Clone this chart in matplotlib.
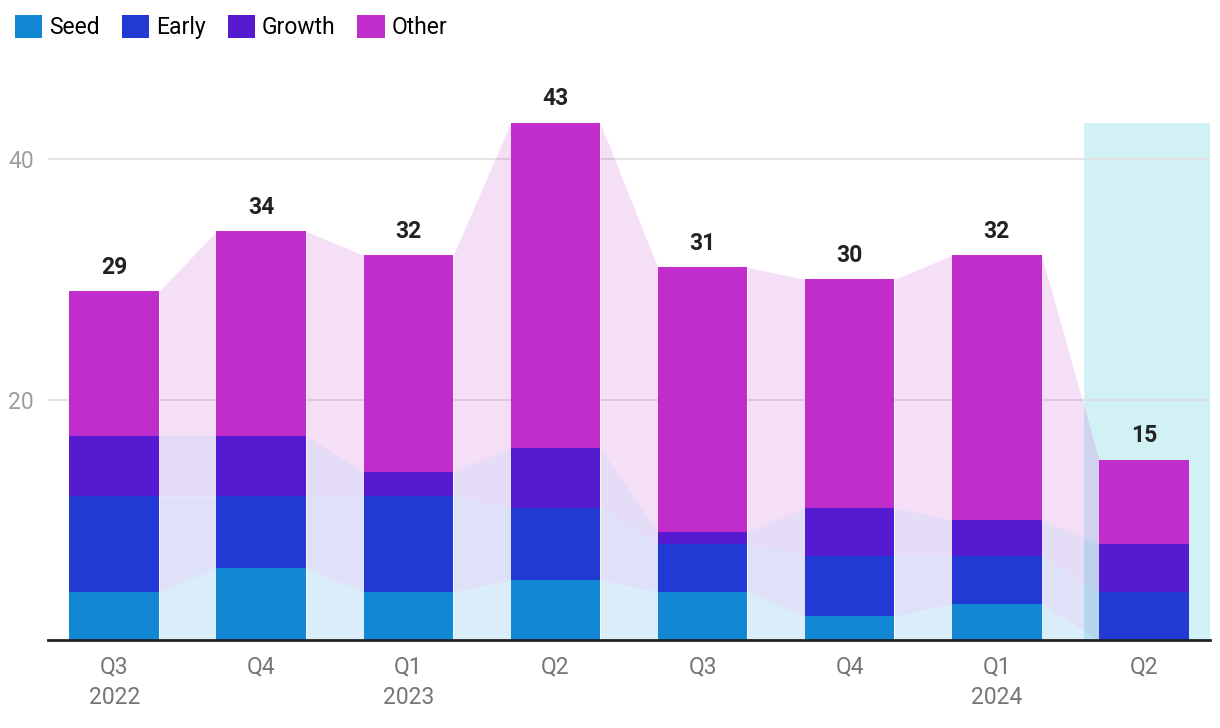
import numpy as np
import matplotlib.pyplot as plt
from matplotlib.patches import Patch

plt.rcParams['font.family'] = ['Roboto', 'DejaVu Sans']

quarters = ['Q3\n2022', 'Q4', 'Q1\n2023', 'Q2', 'Q3', 'Q4', 'Q1\n2024', 'Q2']
seed = [4, 6, 4, 5, 4, 2, 3, 0]
early = [8, 6, 8, 6, 4, 5, 4, 4]
growth = [5, 5, 2, 5, 1, 4, 3, 4]
other = [12, 17, 18, 27, 22, 19, 22, 7]

series = [('Seed', seed, '#1288d5'), ('Early', early, '#2339d3'),
          ('Growth', growth, '#561ad0'), ('Other', other, '#c02dca')]

fig = plt.figure(figsize=(12.2, 7.28), dpi=100)
ax = fig.add_axes([48 / 1220, 1 - 640 / 728, (1210 - 48) / 1220, 553 / 728])

x = np.arange(len(quarters))
w = 0.61
totals = np.sum([s[1] for s in series], axis=0)

# highlight for the current quarter
ax.fill_between([x[-1] - 0.41, x[-1] + 0.45], 0, totals.max(), color='#d2f1f5', lw=0, zorder=0)

bottom = np.zeros(len(x))
for name, vals, col in series:
    vals = np.array(vals, dtype=float)
    top = bottom + vals
    ax.bar(x, vals, w, bottom=bottom, color=col, lw=0, zorder=3)
    # light connectors between bars
    for i in range(len(x) - 1):
        xs = [x[i] + w / 2, x[i + 1] - w / 2]
        ax.fill_between(xs, [bottom[i], bottom[i + 1]], [top[i], top[i + 1]],
                        color=col, alpha=0.15, lw=0, zorder=2)
    bottom = top

for xi, t in zip(x, totals):
    ax.text(xi, t + 1.05, str(int(t)), ha='center', va='bottom', fontsize=16.5,
            fontweight='bold', color='#222222', zorder=4)

ax.set_xlim(-0.45, x[-1] + 0.45)
ax.set_ylim(0, 46)
ax.set_yticks([20, 40])
ax.set_xticks(x)
ax.set_xticklabels(quarters, linespacing=1.45)
ax.tick_params(axis='x', length=0, pad=11, labelsize=16.5, labelcolor='#757575')
ax.tick_params(axis='y', length=0, pad=10, labelsize=16.5, labelcolor='#9e9e9e')
ax.grid(axis='y', color='#e0e0e0', lw=1.3, zorder=1)
ax.set_axisbelow(True)
for sp in ['top', 'right', 'left']:
    ax.spines[sp].set_visible(False)
ax.spines['bottom'].set_color('#222222')
ax.spines['bottom'].set_linewidth(2)
ax.spines['bottom'].set_zorder(5)

handles = [Patch(facecolor=c, label=n) for n, _, c in series]
fig.legend(handles=handles, loc='upper left', bbox_to_anchor=(0.0, 1.0), ncol=4,
           frameon=False, fontsize=16.5, handlelength=1.2, handleheight=1.2,
           handletextpad=0.3, columnspacing=0.95, borderaxespad=0.25)

fig.savefig('out.png', dpi=100)
